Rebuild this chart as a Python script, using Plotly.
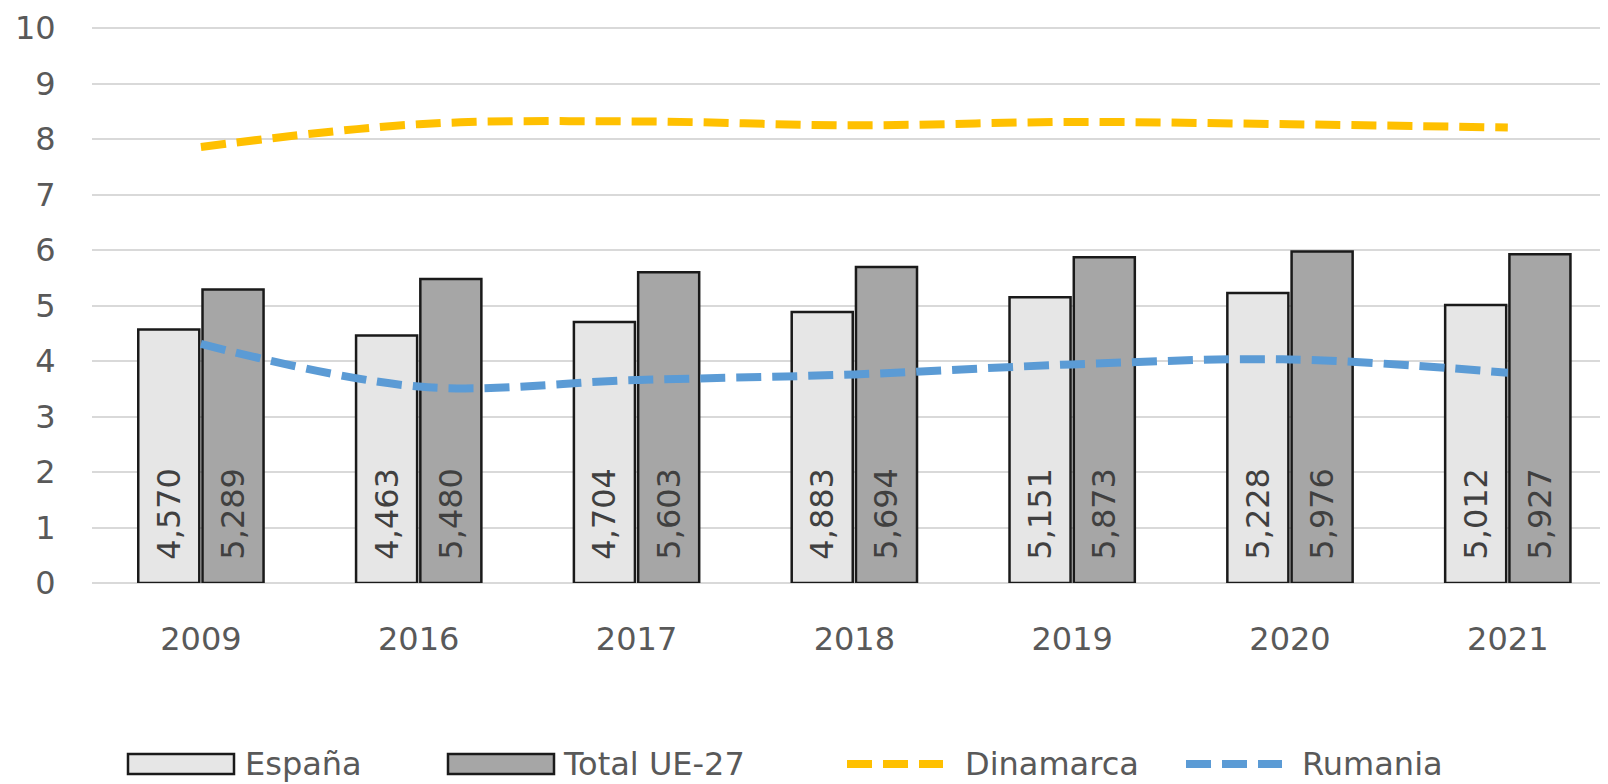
import plotly.graph_objects as go

years = ["2009", "2016", "2017", "2018", "2019", "2020", "2021"]
espana = [4.570, 4.463, 4.704, 4.883, 5.151, 5.228, 5.012]
total_ue = [5.289, 5.480, 5.603, 5.694, 5.873, 5.976, 5.927]
dinamarca = [7.86, 8.27, 8.32, 8.25, 8.31, 8.27, 8.21]
rumania = [4.31, 3.54, 3.66, 3.76, 3.94, 4.03, 3.79]
y_ticks = list(range(0, 11))

legend_names = ["España", "Total UE-27", "Dinamarca", "Rumania"]
bar_colors = ["#E6E6E6", "#A6A6A6"]
line_colors = ["#FFC000", "#5B9BD5"]

def fmt(v):
    return "\u00a0\u00a0" + f"{v:.3f}".replace(".", ",")

FONT = "'DejaVu Sans', Verdana, sans-serif"
TXT = "#595959"

# page body has an 8px margin, so the figure is 8px smaller than the window
OFF = 8
W, H = 1608 - OFF, 784 - OFF
L, R, T, B = 84, 0, 18, 201
PW, PH = W - L - R, H - T - B

def px(x):
    return (x - OFF - L) / PW

def py(y):
    return (H - B - (y - OFF)) / PH

fig = go.Figure()
for name, vals, col in [(legend_names[0], espana, bar_colors[0]), (legend_names[1], total_ue, bar_colors[1])]:
    fig.add_trace(go.Bar(
        x=years, y=vals, name=name, showlegend=False,
        marker=dict(color=col, line=dict(color="#1a1a1a", width=2.5)),
        text=[fmt(v) for v in vals], textposition="inside", insidetextanchor="start",
        textangle=-90, textfont=dict(size=32, color="#404040", family=FONT),
        constraintext="none",
    ))
for name, vals, col in [(legend_names[2], dinamarca, line_colors[0]), (legend_names[3], rumania, line_colors[1])]:
    fig.add_trace(go.Scatter(
        x=years, y=vals, name=name, mode="lines", showlegend=False,
        line=dict(color=col, width=8, dash="25px,11px", shape="spline"),
    ))

# manual legend (reference pixel positions converted to paper coords)
shapes = []
annotations = []
ly = 764
for i, (x0, x1, tx) in enumerate([(128, 234, 243), (448, 554, 561)]):
    shapes.append(dict(type="rect", xref="paper", yref="paper",
                       x0=px(x0), x1=px(x1), y0=py(ly + 10), y1=py(ly - 10),
                       fillcolor=bar_colors[i], line=dict(color="#1a1a1a", width=2.5)))
    annotations.append(dict(xref="paper", yref="paper", x=px(tx), y=py(ly), text=legend_names[i],
                            showarrow=False, xanchor="left", yanchor="middle",
                            font=dict(size=32, color=TXT, family=FONT)))
for i, (x0, x1, tx) in enumerate([(847, 943, 963), (1186, 1282, 1300)]):
    shapes.append(dict(type="line", xref="paper", yref="paper",
                       x0=px(x0), x1=px(x1), y0=py(ly), y1=py(ly),
                       line=dict(color=line_colors[i], width=8, dash="25px,11px")))
    annotations.append(dict(xref="paper", yref="paper", x=px(tx), y=py(ly), text=legend_names[2 + i],
                            showarrow=False, xanchor="left", yanchor="middle",
                            font=dict(size=32, color=TXT, family=FONT)))

fig.update_layout(
    width=W, height=H,
    margin=dict(l=L, r=R, t=T, b=B),
    paper_bgcolor="white", plot_bgcolor="white",
    barmode="group", bargap=0.41, bargroupgap=0.05,
    font=dict(family=FONT, size=32, color=TXT),
    showlegend=False,
    shapes=shapes, annotations=annotations,
)
fig.update_xaxes(
    type="category", showgrid=False, showline=False, automargin=False,
    range=[-0.5, 6.46],
    ticks="outside", ticklen=28, tickcolor="rgba(0,0,0,0)",
    tickfont=dict(size=32, color=TXT, family=FONT),
)
fig.update_yaxes(
    range=[0, 10.04], tickvals=y_ticks, showgrid=True, gridcolor="#D9D9D9", gridwidth=2,
    zeroline=True, zerolinecolor="#D9D9D9", zerolinewidth=2, showline=False, automargin=False,
    ticks="outside", ticklen=29, tickcolor="rgba(0,0,0,0)",
    tickfont=dict(size=32, color=TXT, family=FONT),
)

fig.write_html("out.html")
